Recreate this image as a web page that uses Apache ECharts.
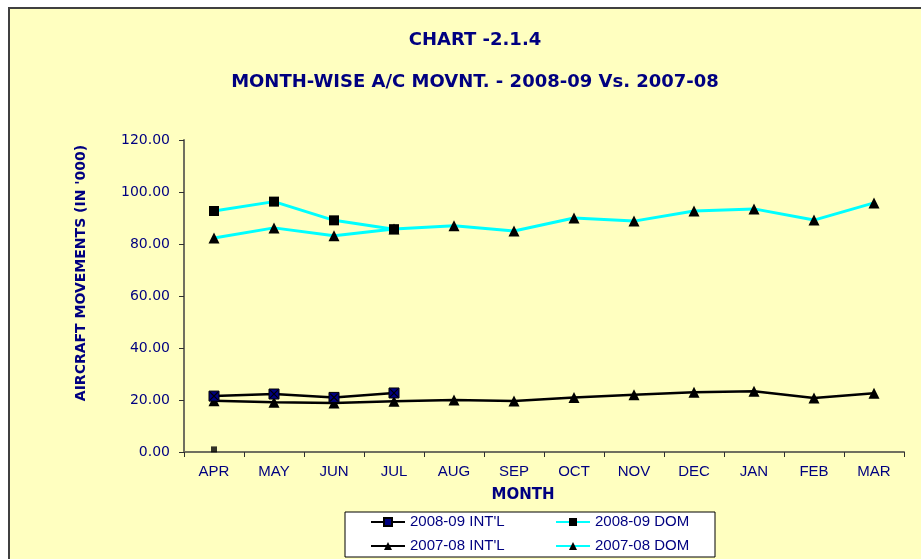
<!DOCTYPE html>
<html>
<head>
<meta charset="utf-8">
<title>CHART -2.1.4</title>
<script src="https://cdn.jsdelivr.net/npm/echarts@6/dist/echarts.min.js"></script>
<style>
  html, body { margin: 0; padding: 0; background: #fff; }
  #chart { width: 921px; height: 559px; }
</style>
</head>
<body>
<div id="chart"></div>
<script>
// months of the financial year
const months = ['APR', 'MAY', 'JUN', 'JUL', 'AUG', 'SEP', 'OCT', 'NOV', 'DEC', 'JAN', 'FEB', 'MAR']
const yTicks = [0, 20, 40, 60, 80, 100, 120]

// aircraft movements in '000
const intl0809 = [21.5, 22.3, 21.0, 22.7]
const dom0809 = [92.7, 96.3, 89.1, 85.7]
const intl0708 = [19.7, 19.1, 18.8, 19.5, 20.0, 19.6, 21.0, 22.0, 23.0, 23.4, 20.8, 22.6]
const dom0708 = [82.3, 86.2, 83.2, 85.8, 87.0, 85.0, 90.0, 88.8, 92.7, 93.5, 89.2, 95.8]
// stray point near zero at APR (no legend entry)
const stray = [1.0]

const navy = '#000080'
const font = 'Liberation Sans, Arial, sans-serif'
const wide = 'DejaVu Sans, sans-serif'

// little X drawn on top of the 2008-09 INT'L squares
const crossPath = 'path://M0,0L1,0L10,9L10,10L9,10L0,1ZM10,0L10,1L1,10L0,10L0,9L9,0Z'

const chart = echarts.init(document.getElementById('chart'))

chart.setOption({
  backgroundColor: '#ffffff',
  animation: false,
  textStyle: { fontFamily: font },
  graphic: [{
    type: 'rect',
    z: -10,
    silent: true,
    shape: { x: 9, y: 8, width: 1000, height: 1000 },
    style: { fill: '#FFFFC0', stroke: '#404040', lineWidth: 2 }
  }, {
    type: 'text',
    x: 81,
    y: 273,
    rotation: Math.PI / 2,
    silent: true,
    style: {
      text: "AIRCRAFT MOVEMENTS (IN '000)",
      fill: navy,
      font: 'bold 14px ' + wide,
      align: 'center',
      verticalAlign: 'middle'
    }
  }],
  title: [{
    text: 'CHART -2.1.4',
    left: 470,
    top: 26,
    textAlign: 'center',
    textStyle: { color: navy, fontSize: 18, fontWeight: 'bold', fontFamily: wide }
  }, {
    text: 'MONTH-WISE A/C MOVNT. - 2008-09 Vs. 2007-08',
    left: 470,
    top: 68,
    textAlign: 'center',
    textStyle: { color: navy, fontSize: 18, fontWeight: 'bold', fontFamily: wide }
  }],
  grid: {
    left: 184,
    right: 17,
    top: 140,
    bottom: 107
  },
  legend: {
    data: ["2008-09 INT'L", '2008-09 DOM', "2007-08 INT'L", '2007-08 DOM'],
    left: 345,
    top: 512,
    width: 400,
    padding: [1, 20, 2, 25],
    itemGap: 6,
    itemWidth: 34,
    itemHeight: 10,
    backgroundColor: '#ffffff',
    borderColor: '#000000',
    borderWidth: 1,
    borderRadius: 0,
    formatter: name => (name.indexOf('INT') > -1 ? '{a|' : '{b|') + name + '}',
    textStyle: {
      color: navy,
      fontSize: 15,
      fontFamily: font,
      rich: {
        a: { width: 139, height: 18, lineHeight: 18, color: navy, fontSize: 15, fontFamily: font },
        b: { width: 100, height: 18, lineHeight: 18, color: navy, fontSize: 15, fontFamily: font }
      }
    }
  },
  xAxis: {
    type: 'category',
    data: months,
    boundaryGap: true,
    name: 'MONTH',
    nameLocation: 'middle',
    nameGap: 36,
    nameTextStyle: { color: navy, fontSize: 15, fontWeight: 'bold', fontFamily: wide, padding: [0, 42, 0, 0] },
    axisLine: { lineStyle: { color: '#707060', width: 2 } },
    axisTick: { show: true, length: 5, lineStyle: { color: '#303030', width: 1 } },
    axisLabel: { color: navy, fontSize: 15, margin: 12 },
    splitLine: { show: false }
  },
  yAxis: {
    type: 'value',
    min: 0,
    max: 120,
    interval: 20,
    axisLine: { show: true, lineStyle: { color: '#707060', width: 2 } },
    axisTick: { show: true, length: 5, lineStyle: { color: '#303030', width: 1 } },
    axisLabel: {
      color: navy,
      fontSize: 14,
      fontFamily: wide,
      margin: 14,
      formatter: v => yTicks.includes(v) ? v.toFixed(2) : ''
    },
    splitLine: { show: false }
  },
  series: [{
    name: "2008-09 INT'L",
    type: 'line',
    data: intl0809,
    symbol: 'rect',
    symbolSize: 10,
    lineStyle: { color: '#000000', width: 2.5 },
    itemStyle: { color: navy, borderColor: '#000000', borderWidth: 1 },
    z: 4
  }, {
    name: 'intl0809-cross',
    type: 'line',
    data: intl0809,
    symbol: crossPath,
    symbolSize: 8,
    lineStyle: { width: 0, opacity: 0 },
    itemStyle: { color: '#000000' },
    z: 5
  }, {
    name: '2008-09 DOM',
    type: 'line',
    data: dom0809,
    symbol: 'rect',
    symbolSize: 10,
    lineStyle: { color: '#00FFFF', width: 3 },
    itemStyle: { color: '#000000' },
    z: 4
  }, {
    name: "2007-08 INT'L",
    type: 'line',
    data: intl0708,
    symbol: 'triangle',
    symbolSize: 11,
    lineStyle: { color: '#000000', width: 2.5 },
    itemStyle: { color: '#000000' },
    z: 3
  }, {
    name: '2007-08 DOM',
    type: 'line',
    data: dom0708,
    symbol: 'triangle',
    symbolSize: 11,
    lineStyle: { color: '#00FFFF', width: 3 },
    itemStyle: { color: '#000000' },
    z: 3
  }, {
    name: 'stray',
    type: 'scatter',
    data: stray,
    symbol: 'rect',
    symbolSize: 6,
    itemStyle: { color: '#000000' }
  }]
})
</script>
</body>
</html>
